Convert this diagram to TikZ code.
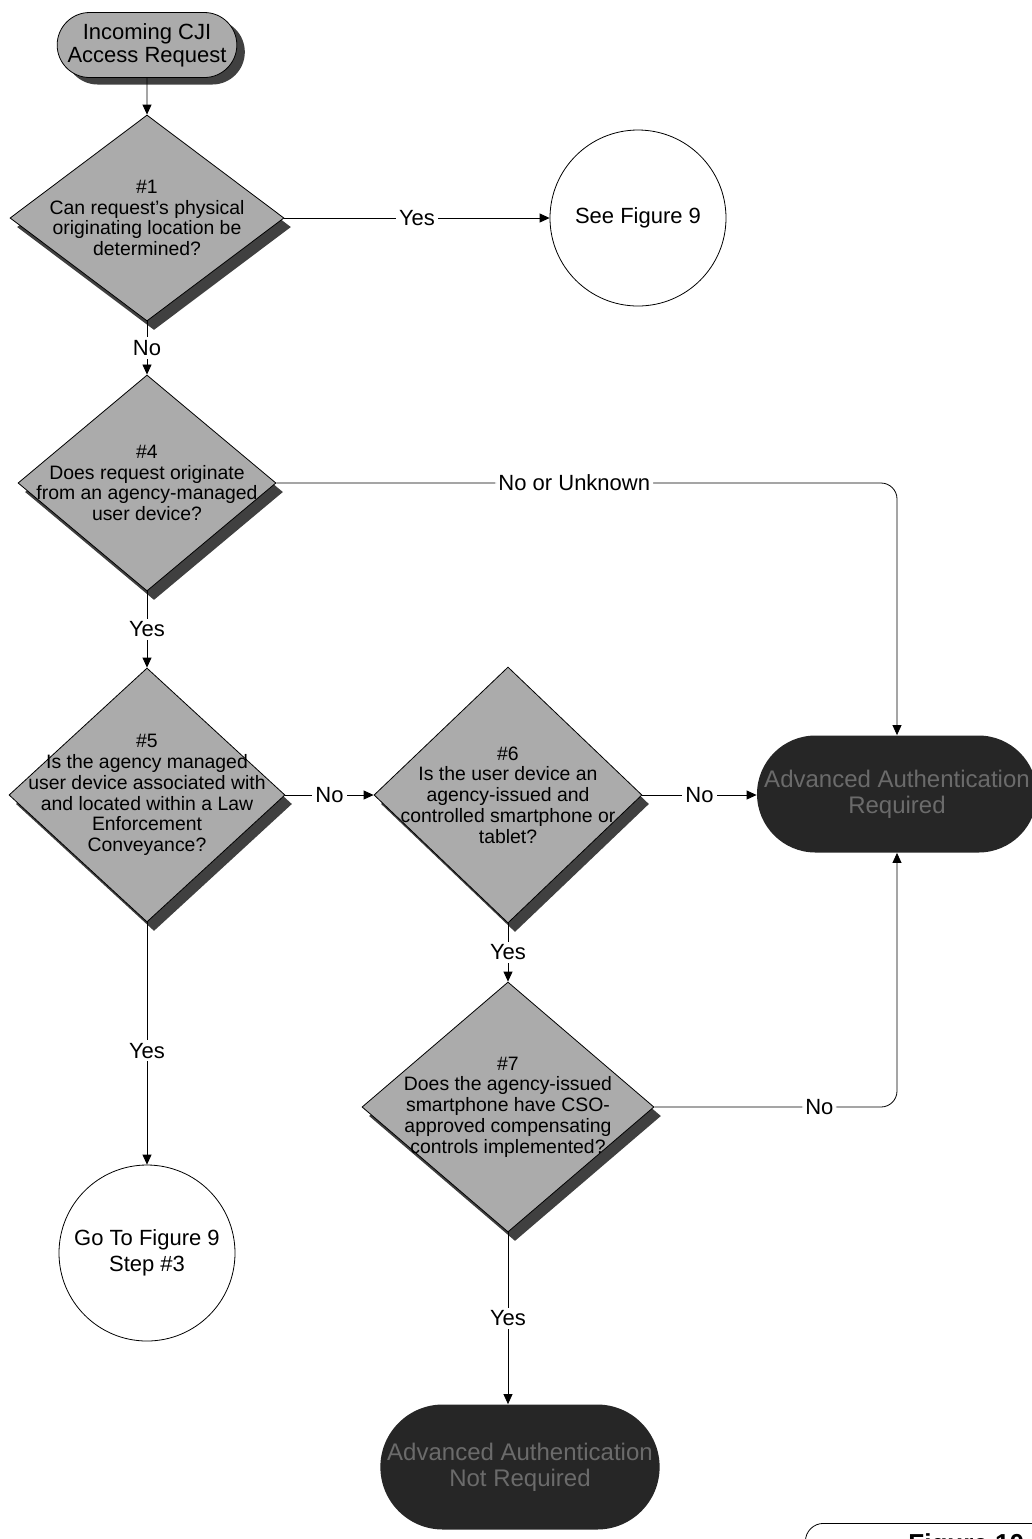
\documentclass[tikz,border=0pt]{standalone}
\usepackage{fontspec}
\setmainfont{Liberation Sans}
\usetikzlibrary{shapes,arrows.meta,shadows}

\begin{document}
\begin{tikzpicture}[x=0.5pt, y=-0.5pt]
        \tikzstyle{decision} = [diamond, draw, fill=black!33, inner sep=0pt, drop shadow={shadow xshift=3.5pt, shadow yshift=-4.5pt, fill=black!75, opacity=1}]
        \tikzstyle{question} = [align=center, inner sep=0pt, font=\fontsize{9.7}{10.4}\selectfont]
        \tikzstyle{startbox} = [rounded rectangle, draw, fill=black!33, minimum width=75pt, minimum height=32.5pt, inner sep=1pt, align=center, font=\fontsize{11}{11.5}\selectfont, drop shadow={shadow xshift=4pt, shadow yshift=-3.5pt, fill=black!75, opacity=1}]
        \tikzstyle{terminal} = [rounded rectangle, fill=black!85, text=black!58, inner sep=1pt, align=center, font=\fontsize{12}{13}\selectfont]
        \tikzstyle{jump} = [circle, draw, fill=white, minimum size=88pt, inner sep=0pt, align=center, font=\fontsize{11}{13}\selectfont]
        \tikzstyle{line} = [draw, -{Triangle[length=5pt, width=4.5pt]}]
        \tikzstyle{answer} = [fill=white, inner sep=1.5pt, font=\fontsize{11}{13}\selectfont]

        \useasboundingbox (0,0) rectangle (1032,1539);

        \node [startbox] (incoming) at (147,45) {Incoming CJI\\Access Request};

        % decisions
        \node [decision, minimum width=137pt, minimum height=103pt] (q1) at (147,218) {};
        \node [question] at (q1) {\#1\\Can request's physical\\originating location be\\determined?};
        \node [decision, minimum width=129pt, minimum height=108pt] (q4) at (147,483) {};
        \node [question] at (q4) {\#4\\Does request originate\\from an agency-managed\\user device?};
        \node [decision, minimum width=138pt, minimum height=127pt] (q5) at (147,795) {};
        \node [question] at (q5) {\#5\\Is the agency managed\\user device associated with\\and located within a Law\\Enforcement\\Conveyance?};
        \node [decision, minimum width=134pt, minimum height=128pt] (q6) at (508,795) {};
        \node [question] at (q6) {\#6\\Is the user device an\\agency-issued and\\controlled smartphone or\\tablet?};
        \node [decision, minimum width=146pt, minimum height=125pt] (q7) at (508,1107) {};
        \node [question] at (q7) {\#7\\Does the agency-issued\\smartphone have CSO-\\approved compensating\\controls implemented?};

        % outcomes
        \node [jump] (seefig) at (638,218) {See Figure 9};
        \node [jump] (gotofig) at (147,1253) {Go To Figure 9\\Step \#3};
        \node [terminal, minimum width=135pt, minimum height=58.5pt] (required) at (897,794) {Advanced Authentication\\Required};
        \node [terminal, minimum width=128pt, minimum height=62.5pt] (notrequired) at (520,1467) {Advanced Authentication\\Not Required};

        \node [draw, rounded corners=9pt, anchor=north west, minimum width=140pt, minimum height=40pt, inner sep=0pt] (figbox) at (805,1523) {};
        \node [font=\fontsize{13}{15}\bfseries, anchor=north west, inner sep=0pt] (figlabel) at (908,1533) {Figure 10};

        \path [line] (incoming) -- (q1);
        \path [line] (q1) -- node[answer]{Yes} (seefig);
        \path [line] (q1) -- node[answer]{No} (q4);
        \path [line, rounded corners=8pt] (q4.east) -| node[answer, pos=0.24]{No or Unknown} (required.north);
        \path [line] (q4) -- node[answer]{Yes} (q5);
        \path [line] (q5) -- node[answer]{No} (q6);
        \path [line] (q6.east) -- node[answer]{No} (q6.east -| required.west);
        \path [line] (q6) -- node[answer]{Yes} (q7);
        \path [line, rounded corners=8pt] (q7.east) -| node[answer, pos=0.34]{No} (required.south);
        \path [line] (q7) -- node[answer]{Yes} (q7 |- notrequired.north);
        \path [line] (q5) -- node[answer, pos=0.53]{Yes} (gotofig);

    \end{tikzpicture}
\end{document}
